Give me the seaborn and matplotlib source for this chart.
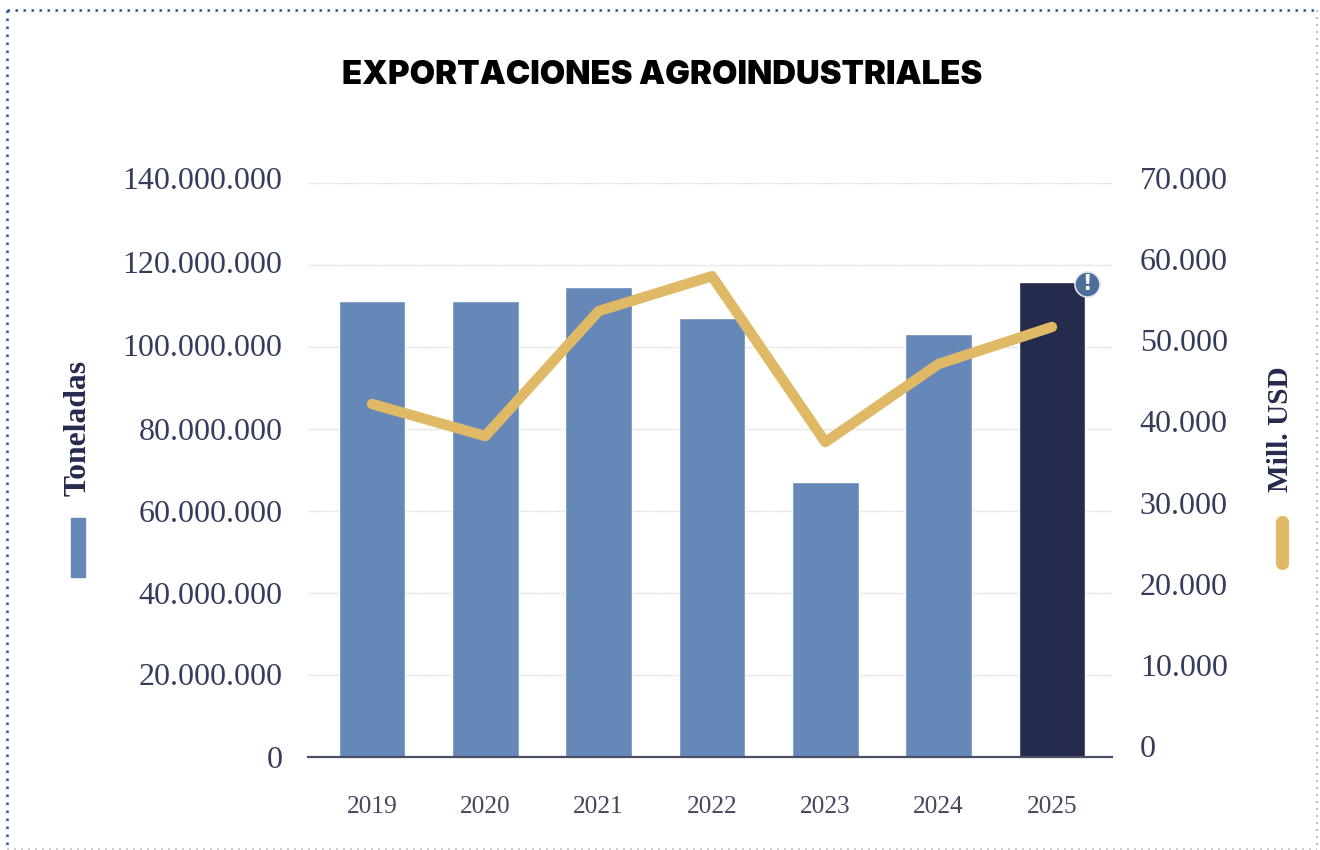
import seaborn as sns
import pandas as pd
import matplotlib.pyplot as plt
from matplotlib.lines import Line2D
from matplotlib.patches import Rectangle
from matplotlib.transforms import ScaledTranslation

years = ['2019', '2020', '2021', '2022', '2023', '2024', '2025']
toneladas = [111200000, 111200000, 114600000, 107000000, 67000000, 103200000, 115800000]
mill_usd = [42150, 38200, 53600, 57900, 37450, 47080, 51640]
left_ticks = [0, 20000000, 40000000, 60000000, 80000000, 100000000, 120000000, 140000000]
left_labels = ['0', '20.000.000', '40.000.000', '60.000.000', '80.000.000',
               '100.000.000', '120.000.000', '140.000.000']
right_ticks = [0, 10000, 20000, 30000, 40000, 50000, 60000, 70000]
right_labels = ['0', '10.000', '20.000', '30.000', '40.000', '50.000', '60.000', '70.000']
bar_colors = ['#6688b9', '#6688b9', '#6688b9', '#6688b9', '#6688b9', '#6688b9', '#252b4d']

W, H = 1320, 850
TEXT = '#343d5c'
GOLD = '#dfb965'

df = pd.DataFrame({'year': years, 'toneladas': toneladas, 'mill_usd': mill_usd})

sns.set_style('white')
plt.rcParams['font.family'] = ['Liberation Serif', 'DejaVu Serif']

fig = plt.figure(figsize=(W / 100, H / 100), dpi=100)


def box(left, right, top, bottom):
    return [left / W, 1 - bottom / H, (right - left) / W, (bottom - top) / H]


ax = fig.add_axes(box(308, 1112, 183, 757))
sns.barplot(data=df, x='year', y='toneladas', hue='year', palette=bar_colors,
            width=0.59, saturation=1, legend=False, ax=ax)
ax.set_xlim(-0.565, 6.53)
ax.set_ylim(0, 140000000)
ax.set_yticks(left_ticks, left_labels)
ax.set_xlabel('')
ax.set_ylabel('')
ax.set_axisbelow(True)
ax.grid(axis='y', color='#d6d8dc', linestyle=(0, (1, 0.8)), linewidth=1)
ax.grid(axis='x', visible=False)
ax.tick_params(axis='y', length=0, pad=18.5, labelsize=23, labelcolor=TEXT)
ax.tick_params(axis='x', length=0, pad=28, labelsize=18.3, labelcolor='#43485c')
for side in ['top', 'left', 'right']:
    ax.spines[side].set_visible(False)
ax.spines['bottom'].set_color('#4b5064')
ax.spines['bottom'].set_linewidth(1.6)

# the upper labels on the left sit above their gridlines in the original
for label, shift in zip(ax.get_yticklabels(), [0, 1, 0, 0, 0, 2, 3, 5]):
    label.set_transform(label.get_transform()
                        + ScaledTranslation(0, shift / 100, fig.dpi_scale_trans))

# the right scale sits a little higher than the left one in the original
ax2 = fig.add_axes(box(308, 1112, 178, 746), sharex=ax)
ax2.patch.set_visible(False)
sns.lineplot(data=df, x='year', y='mill_usd', color=GOLD, linewidth=7.5, sort=False,
             solid_capstyle='round', solid_joinstyle='round', ax=ax2)
ax2.set_ylim(0, 70000)
ax2.yaxis.tick_right()
ax2.set_yticks(right_ticks, right_labels)
ax2.set_xlabel('')
ax2.set_ylabel('')
ax2.grid(False)
ax2.tick_params(axis='y', length=0, pad=20, labelsize=23, labelcolor=TEXT)
ax2.tick_params(axis='x', length=0, labelbottom=False)
for spine in ax2.spines.values():
    spine.set_visible(False)

# warning mark on the last bar
fig.add_artist(Line2D([1087 / W], [1 - 284 / H], marker='o', markersize=18,
                      markerfacecolor='#4d6d9b', markeredgecolor='#dfe4ec',
                      markeredgewidth=1.2, linestyle=''))
fig.text(1087 / W, 1 - 284 / H, '!', color='white', fontsize=15, fontweight='bold',
         family='DejaVu Sans', ha='center', va='center')

fig.text(662.5 / W, 1 - 76 / H, 'EXPORTACIONES AGROINDUSTRIALES', color='black',
         fontsize=23.7, fontweight=900, family='Inter', ha='center', va='center')

# axis legends
fig.text(78 / W, 1 - 428 / H, 'Toneladas', color='#252b4d', fontsize=22.8, fontweight='bold',
         rotation=90, ha='center', va='center')
fig.add_artist(Rectangle((71 / W, 1 - 577 / H), 14 / W, 59 / H, color='#6688b9',
                         transform=fig.transFigure))
fig.text(1281 / W, 1 - 429 / H, 'Mill. USD', color='#252b4d', fontsize=21.2, fontweight='bold',
         rotation=90, ha='center', va='center')
fig.add_artist(Line2D([1282 / W, 1282 / W], [1 - 522 / H, 1 - 563 / H], color=GOLD,
                      linewidth=9.5, solid_capstyle='round'))

# dotted frame
fig.add_artist(Line2D([7 / W, 7 / W], [1 - 10 / H, 1 - 848 / H], color='#26568f', lw=1.8,
                      linestyle=(0, (1, 2.2))))
fig.add_artist(Line2D([7 / W, 1317 / W], [1 - 10 / H, 1 - 10 / H], color='#26568f', lw=1.8,
                      linestyle=(0, (1, 2.2))))
fig.add_artist(Line2D([1317 / W, 1317 / W], [1 - 10 / H, 1 - 848 / H], color='#a9b4c4', lw=1.2,
                      linestyle=(0, (1.2, 3))))
fig.add_artist(Line2D([7 / W, 1317 / W], [1 - 849 / H, 1 - 849 / H], color='#c4c8ce', lw=1.2,
                      linestyle=(0, (1.2, 3))))

plt.savefig('out.png', dpi=100)
plt.close()
